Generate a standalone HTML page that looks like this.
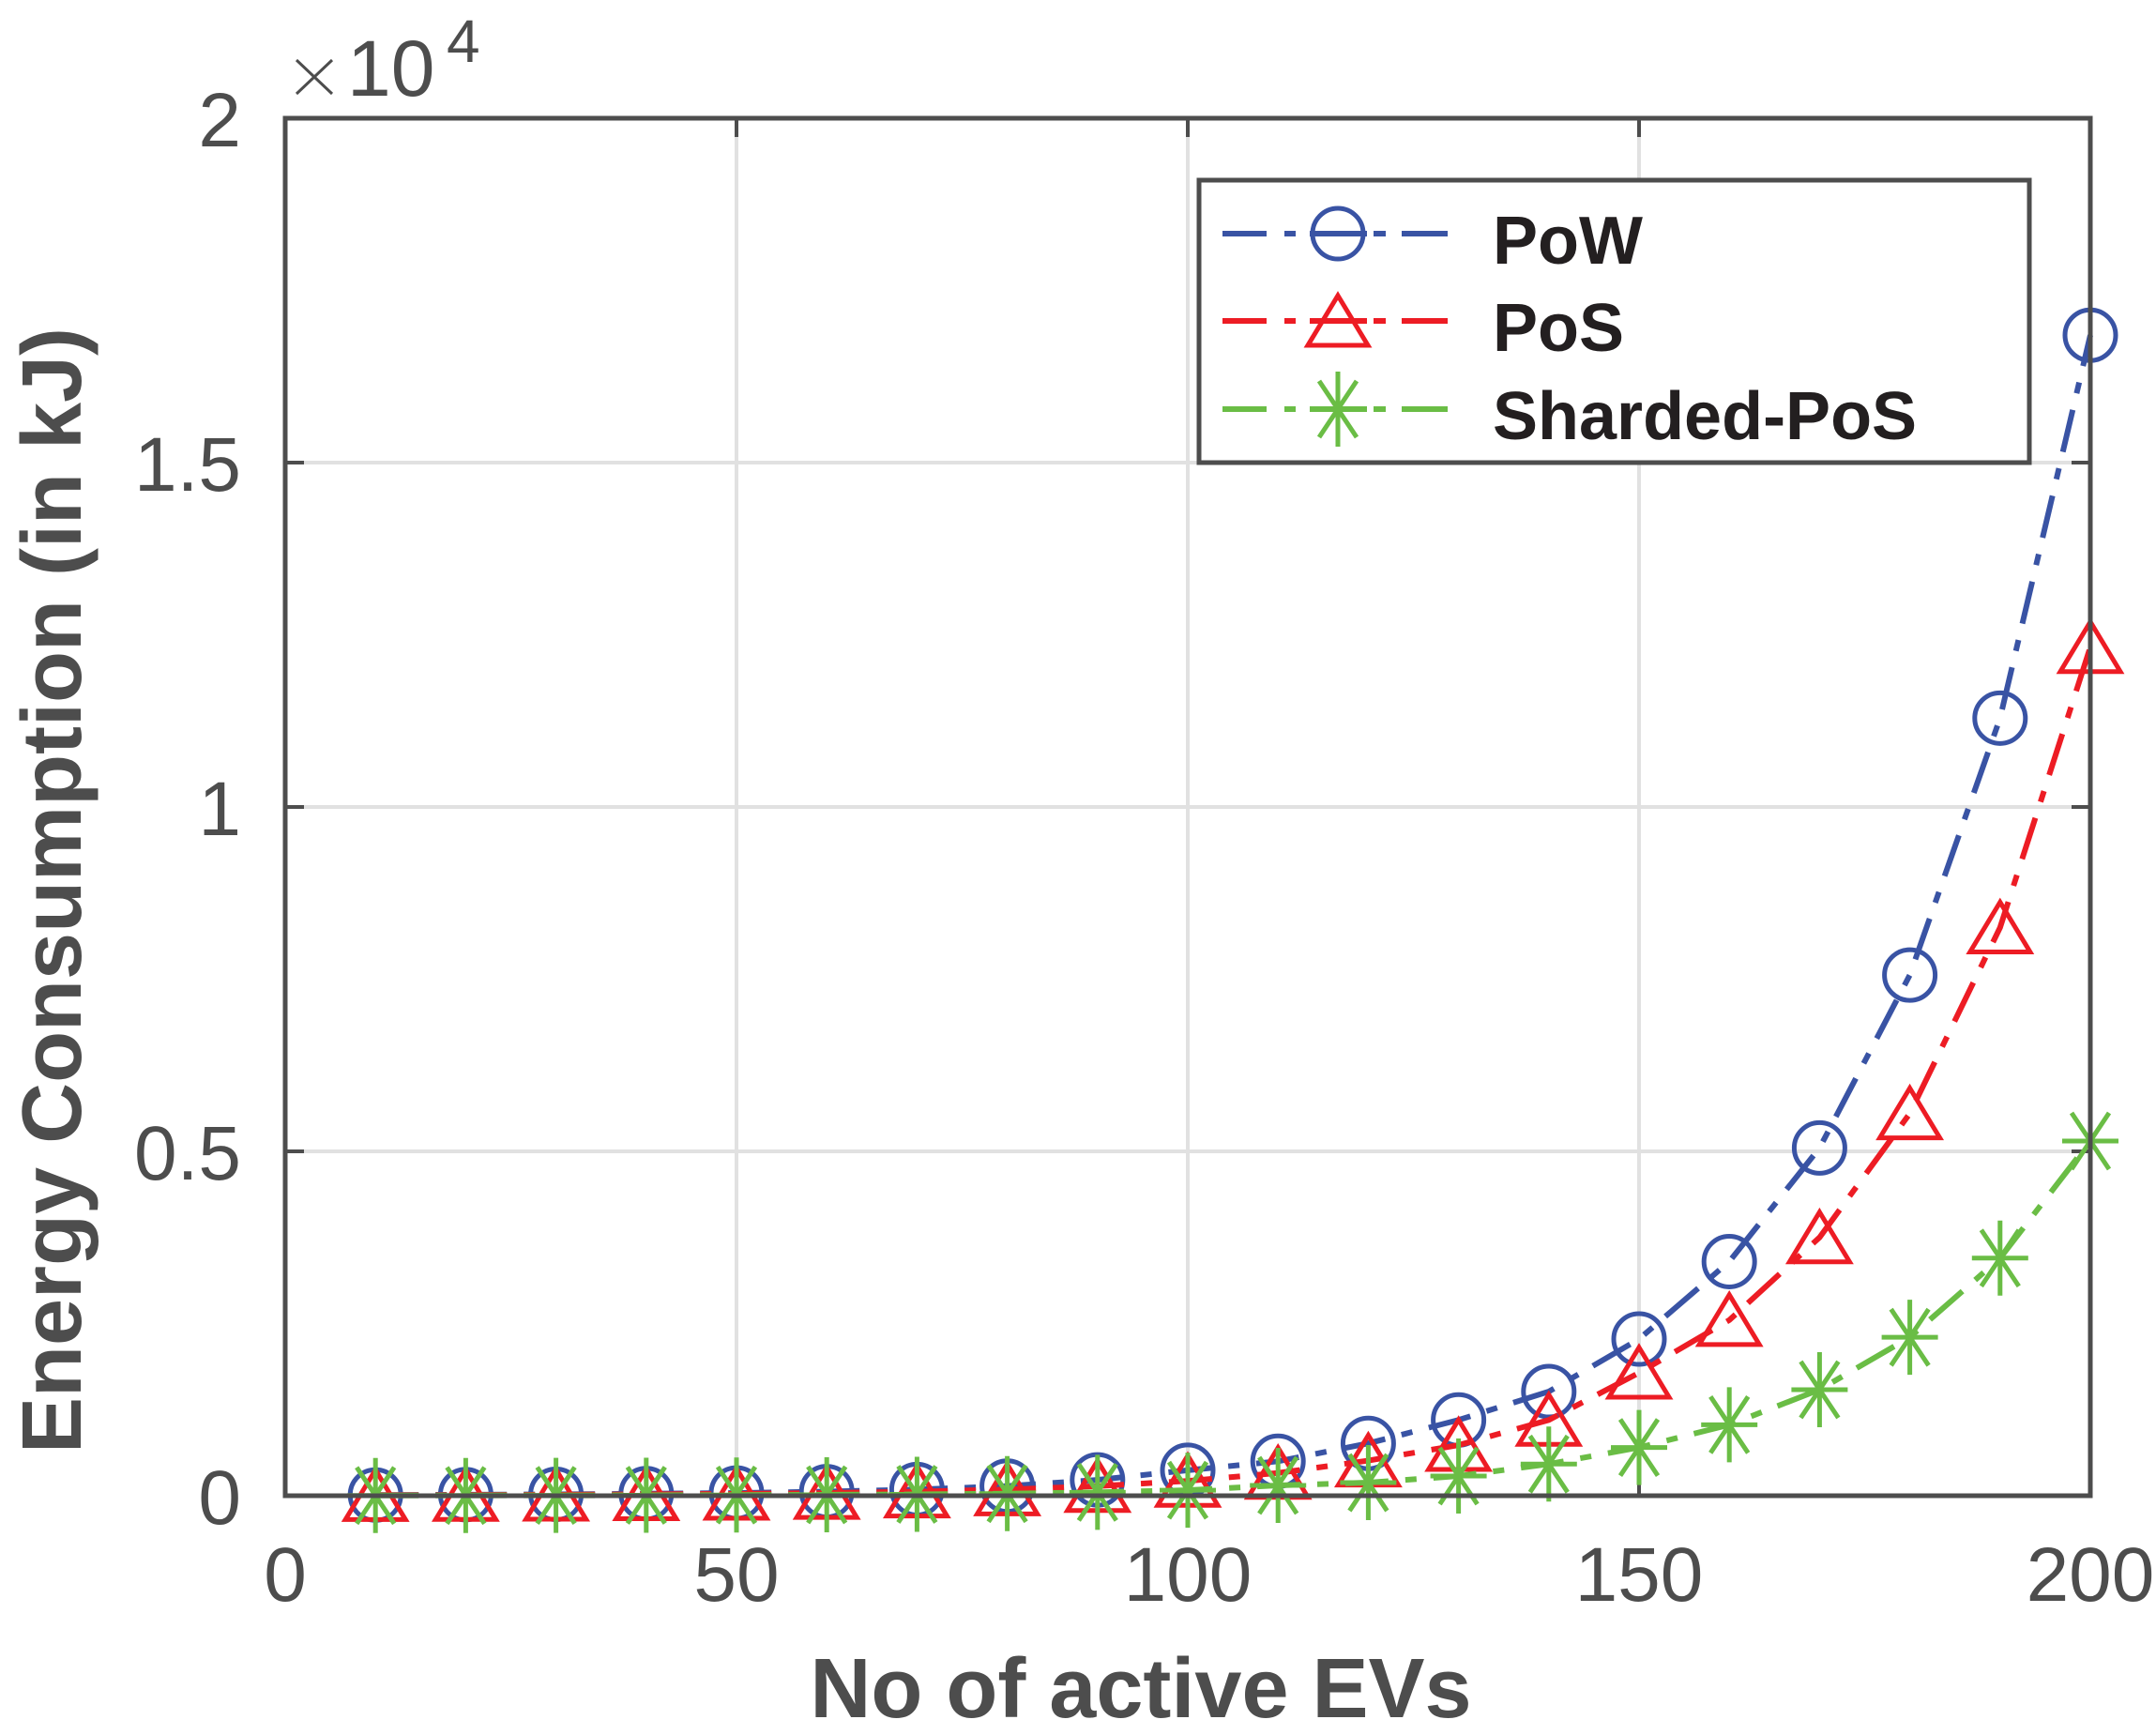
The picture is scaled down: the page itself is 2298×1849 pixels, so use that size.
<!DOCTYPE html>
<html><head><meta charset="utf-8"><style>
html,body{margin:0;padding:0;background:#fff;}
svg{display:block;font-family:"Liberation Sans",Arial,sans-serif;}
</style></head><body>
<svg id="chart" width="2298" height="1849" viewBox="0 0 2298 1849" xmlns="http://www.w3.org/2000/svg">
<rect x="0" y="0" width="2298" height="1849" fill="#fff"/>
<g id="grid"></g>
<g id="axes"></g>
<g id="series"></g>
<g id="frame"></g>
<g fill="#4d4d4d">
<path d="M316,64 L354,100 M354,64 L316,100" stroke="#4d4d4d" stroke-width="3" fill="none"/>
<text x="370" y="102" font-size="84">10</text>
<text x="476" y="66" font-size="64">4</text>
</g>
<text x="1216" y="1830" text-anchor="middle" font-size="90" font-weight="bold" fill="#4d4d4d">No of active EVs</text>
<text transform="translate(86,949) rotate(-90)" text-anchor="middle" font-size="90" font-weight="bold" fill="#4d4d4d">Energy Consumption (in kJ)</text>
<g id="legend"></g>
</svg>
<script>
const xValues = [10,20,30,40,50,60,70,80,90,100,110,120,130,140,150,160,170,180,190,200];
const powValues = [10,15,20,30,40,60,90,140,230,370,500,760,1100,1512,2275,3400,5050,7560,11290,16850];
const posValues = [8,10,14,20,28,40,60,90,140,215,330,510,735,1100,1785,2550,3750,5550,8250,12320];
const shardedValues = [3,4,5,7,10,14,20,30,50,80,150,190,286,460,700,1030,1540,2300,3450,5150];
const xTicks = [0,50,100,150,200];
const xTickLabels = ["0","50","100","150","200"];
const yTicks = [0,5000,10000,15000,20000];
const yTickLabels = ["0","0.5","1","1.5","2"];

const L=304,R=2228,T=126,B=1594;
const xs = v => L + (v-0)/(200-0)*(R-L);
const ys = v => B - (v-0)/(20000-0)*(B-T);
const NS="http://www.w3.org/2000/svg";
function mk(tag, attrs, parent){const e=document.createElementNS(NS,tag);for(const k in attrs)e.setAttribute(k,attrs[k]);parent.appendChild(e);return e;}
const grid=document.getElementById('grid'), axes=document.getElementById('axes'), series=document.getElementById('series'), frame=document.getElementById('frame'), legend=document.getElementById('legend');
const AX="#4d4d4d";

xTicks.forEach((t,i)=>{
  const x=xs(t);
  if(i>0&&i<xTicks.length-1){const g=mk('line',{x1:x,y1:T,x2:x,y2:B,stroke:"#e1e1e1","stroke-width":4},grid);
  
  }
  const tk=mk('line',{x1:x,y1:B,x2:x,y2:B-20,stroke:AX,"stroke-width":4},axes);
  
  
  const tk2=mk('line',{x1:x,y1:T,x2:x,y2:T+20,stroke:AX,"stroke-width":4},axes);
  
  
  const lb=mk('text',{x:x,y:1706,"text-anchor":"middle","font-size":82,fill:AX},axes);
  lb.textContent=xTickLabels[i];
  
  
});
yTicks.forEach((t,i)=>{
  const y=ys(t);
  if(i>0&&i<yTicks.length-1){const g=mk('line',{x1:L,y1:y,x2:R,y2:y,stroke:"#e1e1e1","stroke-width":4},grid);
  
  }
  const tk=mk('line',{x1:L,y1:y,x2:L+20,y2:y,stroke:AX,"stroke-width":4},axes);
  
  
  const tk2=mk('line',{x1:R,y1:y,x2:R-20,y2:y,stroke:AX,"stroke-width":4},axes);
  
  
  const lb=mk('text',{x:257,y:y+30,"text-anchor":"end","font-size":82,fill:AX},axes);
  lb.textContent=yTickLabels[i];
  
  
});
const fr=mk('rect',{x:L,y:T,width:R-L,height:B-T,fill:"none",stroke:AX,"stroke-width":5},frame);



const DASH="46 18 12 18";
function marker(type,cx,cy,color,parent){
  let m;
  if(type==='circle'){m=mk('circle',{cx:cx,cy:cy,r:27,fill:"none",stroke:color,"stroke-width":5},parent);}
  else if(type==='tri'){m=mk('polygon',{points:`${cx},${cy-27} ${cx+32},${cy+26} ${cx-32},${cy+26}`,fill:"none",stroke:color,"stroke-width":5},parent);}
  else {m=mk('path',{d:`M${cx-30},${cy}H${cx+30}M${cx},${cy-40}V${cy+40}M${cx-20},${cy-30}L${cx+20},${cy+30}M${cx+20},${cy-30}L${cx-20},${cy+30}`,fill:"none",stroke:color,"stroke-width":5},parent);}
  return m;
}
function drawSeries(vals,color,type,name){
  const g=mk('g',{},series);
  
  
  const pts=vals.map((v,i)=>xs(xValues[i])+','+ys(v)).join(' ');
  const pl=mk('polyline',{points:pts,fill:"none",stroke:color,"stroke-width":6,"stroke-dasharray":DASH},g);
  
  
  vals.forEach((v,i)=>{
    const m=marker(type,xs(xValues[i]),ys(v),color,g);
    
    
  });
}
drawSeries(powValues,"#3953a4","circle","pow");
drawSeries(posValues,"#ed1c24","tri","pos");
drawSeries(shardedValues,"#6abd45","star","sharded-pos");

const lb=mk('rect',{x:1278,y:192,width:885,height:301,fill:"#fff",stroke:AX,"stroke-width":5},legend);


const entries=[["PoW","#3953a4","circle",249],["PoS","#ed1c24","tri",342],["Sharded-PoS","#6abd45","star",436]];
entries.forEach(e=>{
  const g=mk('g',{},legend);
  
  
  const y=e[3];
  mk('path',{d:`M1303,${y}H1350M1369,${y}H1381M1396,${y}H1457M1464,${y}H1477M1494,${y}H1543`,stroke:e[1],"stroke-width":6,fill:"none"},g);
  marker(e[2],1426,y,e[1],g);
  const t=mk('text',{x:1591,y:y+32,"font-size":72,"font-weight":"bold",fill:"#231f20"},g);
  t.textContent=e[0];
});
</script>
</body></html>
